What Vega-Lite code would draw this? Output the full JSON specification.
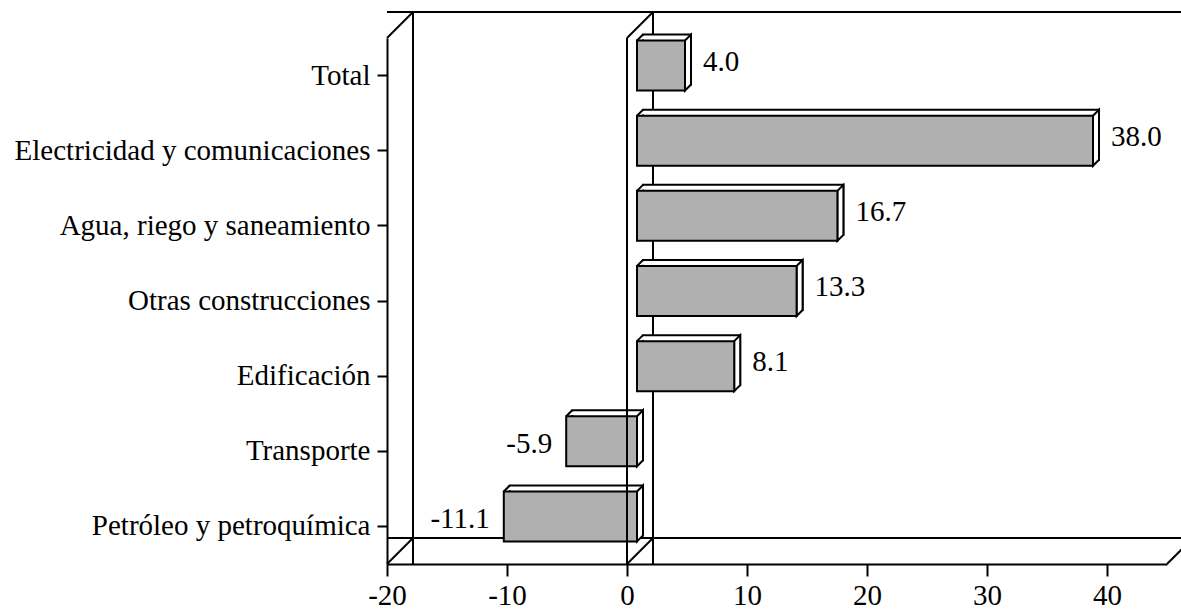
{
  "$schema": "https://vega.github.io/schema/vega-lite/v6.json",
  "width": 780,
  "height": 526,
  "autosize": {"type": "none"},
  "padding": {"left": 387, "top": 38, "right": 14, "bottom": 50},
  "background": "white",
  "config": {
    "view": {"stroke": null},
    "font": "Liberation Serif",
    "locale": {
      "number": {"decimal": ".", "thousands": ",", "grouping": [3], "currency": ["$", ""], "minus": "-"}
    },
    "axis": {
      "domainColor": "black",
      "domainWidth": 2,
      "tickColor": "black",
      "tickWidth": 2,
      "labelColor": "black",
      "labelFont": "Liberation Serif",
      "labelFontSize": 29,
      "grid": false,
      "labelOverlap": false,
      "labelFlush": false
    }
  },
  "data": {
    "values": [
      {"c": "Total", "v": 4.0},
      {"c": "Electricidad y comunicaciones", "v": 38.0},
      {"c": "Agua, riego y saneamiento", "v": 16.7},
      {"c": "Otras construcciones", "v": 13.3},
      {"c": "Edificación", "v": 8.1},
      {"c": "Transporte", "v": -5.9},
      {"c": "Petróleo y petroquímica", "v": -11.1}
    ]
  },
  "layer": [
    {
      "data": {"values": [{}]},
      "mark": {"type": "rule", "color": "black", "strokeWidth": 2, "xOffset": 26, "yOffset": -26},
      "encoding": {"y": {"datum": "Total", "type": "nominal", "bandPosition": 0, "title": null}}
    },
    {
      "data": {"values": [{}]},
      "mark": {"type": "rule", "color": "black", "strokeWidth": 2, "xOffset": 26, "yOffset": -26},
      "encoding": {"y": {"datum": "Petróleo y petroquímica", "type": "nominal", "bandPosition": 1, "title": null}}
    },
    {
      "data": {"values": [{}]},
      "mark": {"type": "rule", "color": "black", "strokeWidth": 2, "xOffset": 26, "yOffset": -26},
      "encoding": {"x": {"datum": -20, "type": "quantitative", "title": null}}
    },
    {
      "data": {"values": [{}]},
      "mark": {"type": "rule", "color": "black", "strokeWidth": 2, "xOffset": 26, "yOffset": -26},
      "encoding": {"x": {"datum": 0, "type": "quantitative", "title": null}}
    },
    {
      "data": {"values": [{}]},
      "mark": {"type": "point", "shape": "M0,0L26,-26", "size": 4, "filled": false, "stroke": "black", "strokeWidth": 2, "opacity": 1},
      "encoding": {
        "x": {"datum": -20, "type": "quantitative", "title": null},
        "y": {"datum": "Total", "type": "nominal", "bandPosition": 0, "title": null}
      }
    },
    {
      "data": {"values": [{}]},
      "mark": {"type": "point", "shape": "M0,0L26,-26", "size": 4, "filled": false, "stroke": "black", "strokeWidth": 2, "opacity": 1},
      "encoding": {
        "x": {"datum": -20, "type": "quantitative", "title": null},
        "y": {"datum": "Petróleo y petroquímica", "type": "nominal", "bandPosition": 1, "title": null}
      }
    },
    {
      "data": {"values": [{}]},
      "mark": {"type": "point", "shape": "M0,0L26,-26", "size": 4, "filled": false, "stroke": "black", "strokeWidth": 2, "opacity": 1},
      "encoding": {
        "x": {"datum": 0, "type": "quantitative", "title": null},
        "y": {"datum": "Total", "type": "nominal", "bandPosition": 0, "title": null}
      }
    },
    {
      "data": {"values": [{}]},
      "mark": {"type": "point", "shape": "M0,0L26,-26", "size": 4, "filled": false, "stroke": "black", "strokeWidth": 2, "opacity": 1},
      "encoding": {
        "x": {"datum": 0, "type": "quantitative", "title": null},
        "y": {"datum": "Petróleo y petroquímica", "type": "nominal", "bandPosition": 1, "title": null}
      }
    },
    {
      "data": {"values": [{}]},
      "mark": {"type": "point", "shape": "M0,0L26,-26", "size": 4, "filled": false, "stroke": "black", "strokeWidth": 2, "opacity": 1},
      "encoding": {
        "x": {"datum": 45, "type": "quantitative", "title": null},
        "y": {"datum": "Petróleo y petroquímica", "type": "nominal", "bandPosition": 1, "title": null}
      }
    },
    {
      "mark": {"type": "bar", "fill": "white", "stroke": "black", "strokeWidth": 2, "xOffset": 16, "yOffset": -16, "height": {"band": 0.665}},
      "encoding": {
        "x": {"field": "v", "type": "quantitative", "title": null},
        "y": {"field": "c", "type": "nominal", "title": null}
      }
    },
    {
      "transform": [{"filter": "datum.v > 0"}],
      "mark": {"type": "point", "shape": "M0,-35L6,-41L6,9L0,15Z", "size": 4, "filled": true, "fill": "white", "stroke": "black", "strokeWidth": 2, "opacity": 1, "xOffset": 10},
      "encoding": {
        "x": {"field": "v", "type": "quantitative", "title": null},
        "y": {"field": "c", "type": "nominal", "title": null}
      }
    },
    {
      "transform": [{"filter": "datum.v < 0"}],
      "mark": {"type": "point", "shape": "M0,-35L6,-41L6,9L0,15Z", "size": 4, "filled": true, "fill": "white", "stroke": "black", "strokeWidth": 2, "opacity": 1, "xOffset": 10},
      "encoding": {
        "x": {"datum": 0, "type": "quantitative", "title": null},
        "y": {"field": "c", "type": "nominal", "title": null}
      }
    },
    {
      "transform": [{"filter": "datum.v > 0"}],
      "mark": {"type": "point", "shape": "M4.4,-36.2L7.6,-36.2L7.6,-39.8L4.4,-39.8Z", "size": 4, "filled": true, "fill": "white", "strokeOpacity": 0, "opacity": 1, "xOffset": 10},
      "encoding": {
        "x": {"datum": 0, "type": "quantitative", "title": null},
        "y": {"field": "c", "type": "nominal", "title": null}
      }
    },
    {
      "transform": [{"filter": "datum.v < 0"}],
      "mark": {"type": "point", "shape": "M4.4,-36.2L7.6,-36.2L7.6,-39.8L4.4,-39.8Z", "size": 4, "filled": true, "fill": "white", "strokeOpacity": 0, "opacity": 1, "xOffset": 10},
      "encoding": {
        "x": {"field": "v", "type": "quantitative", "title": null},
        "y": {"field": "c", "type": "nominal", "title": null}
      }
    },
    {
      "transform": [{"filter": "datum.v > 0"}],
      "mark": {"type": "point", "shape": "M0,-35L6,-41", "size": 4, "filled": false, "stroke": "black", "strokeWidth": 2, "opacity": 1, "xOffset": 10},
      "encoding": {
        "x": {"datum": 0, "type": "quantitative", "title": null},
        "y": {"field": "c", "type": "nominal", "title": null}
      }
    },
    {
      "transform": [{"filter": "datum.v < 0"}],
      "mark": {"type": "point", "shape": "M0,-35L6,-41", "size": 4, "filled": false, "stroke": "black", "strokeWidth": 2, "opacity": 1, "xOffset": 10},
      "encoding": {
        "x": {"field": "v", "type": "quantitative", "title": null},
        "y": {"field": "c", "type": "nominal", "title": null}
      }
    },
    {
      "mark": {"type": "bar", "fill": "#b0b0b0", "stroke": "black", "strokeWidth": 2, "xOffset": 10, "yOffset": -10, "height": {"band": 0.665}},
      "encoding": {
        "x": {
          "field": "v",
          "type": "quantitative",
          "title": null,
          "scale": {"domain": [-20, 45], "nice": false, "zero": false},
          "axis": {"values": [-20, -10, 0, 10, 20, 30, 40], "tickSize": 12, "labelPadding": 5}
        },
        "y": {
          "field": "c",
          "type": "nominal",
          "title": null,
          "scale": {
            "domain": ["Total", "Electricidad y comunicaciones", "Agua, riego y saneamiento", "Otras construcciones", "Edificación", "Transporte", "Petróleo y petroquímica"],
            "paddingInner": 0,
            "paddingOuter": 0
          },
          "axis": {"tickSize": 10, "labelPadding": 7, "labelLimit": 0}
        }
      }
    },
    {
      "data": {"values": [{}]},
      "mark": {"type": "rule", "color": "black", "strokeWidth": 2},
      "encoding": {"x": {"datum": 0, "type": "quantitative", "title": null}}
    },
    {
      "transform": [{"filter": "datum.v > 0"}],
      "mark": {"type": "text", "align": "left", "baseline": "middle", "font": "Liberation Serif", "fontSize": 29, "color": "black", "xOffset": 28, "yOffset": -14},
      "encoding": {
        "x": {"field": "v", "type": "quantitative", "title": null},
        "y": {"field": "c", "type": "nominal", "title": null},
        "text": {"field": "v", "type": "quantitative", "format": ".1f"}
      }
    },
    {
      "transform": [{"filter": "datum.v < 0"}],
      "mark": {"type": "text", "align": "right", "baseline": "middle", "font": "Liberation Serif", "fontSize": 29, "color": "black", "xOffset": -4, "yOffset": -7},
      "encoding": {
        "x": {"field": "v", "type": "quantitative", "title": null},
        "y": {"field": "c", "type": "nominal", "title": null},
        "text": {"field": "v", "type": "quantitative", "format": ".1f"}
      }
    }
  ]
}
